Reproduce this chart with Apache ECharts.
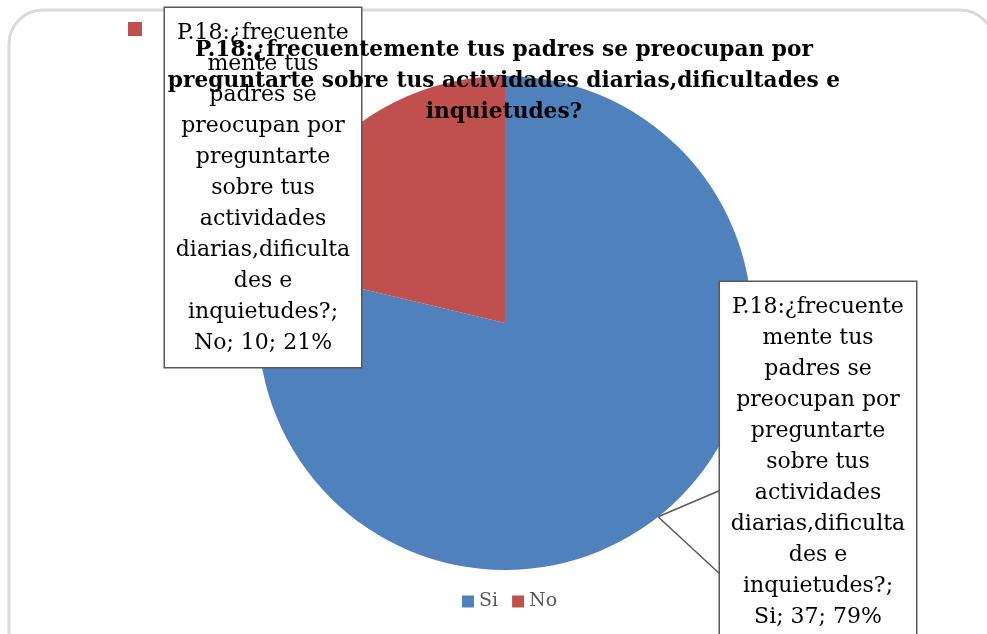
<!DOCTYPE html>
<html>
<head>
<meta charset="utf-8">
<script src="https://cdn.jsdelivr.net/npm/echarts@6/dist/echarts.min.js"></script>
<style>
    html, body { margin: 0; padding: 0; background: #fff; }
    #pie { width: 987px; height: 634px; }
</style>
</head>
<body>
<div id="pie"></div>
<script>
// datos de la pregunta 18
var categories = ['Si', 'No'];
var values = [37, 10];
var colors = ['#4F81BD', '#C0504D'];
var titleText = 'P.18:¿frecuentemente tus padres se preocupan por\npreguntarte sobre tus actividades diarias,dificultades e\ninquietudes?';
var questionLines = ['P.18:¿frecuente', 'mente tus', 'padres se', 'preocupan por', 'preguntarte',
    'sobre tus', 'actividades', 'diarias,dificulta', 'des e', 'inquietudes?;'];

var myChart = echarts.init(document.getElementById('pie'));
var serif = '"DejaVu Serif", "Liberation Serif", serif';

var option = {
    animation: false,
    title: {
        text: titleText, left: 499, textAlign: 'center', top: 30,
        textStyle: {fontFamily: serif, fontWeight: 'bold', fontSize: 21.7, lineHeight: 31, color: '#000'}
    },
    legend: [
        {
            data: categories, bottom: 18, left: 457, icon: 'rect', itemWidth: 12, itemHeight: 12, itemGap: 14,
            textStyle: {fontFamily: serif, fontSize: 19, color: '#595959'}
        },
        {
            // la clave de leyenda suelta arriba a la izquierda
            data: ['No'], left: 123, top: 17, icon: 'rect', itemWidth: 14, itemHeight: 14,
            formatter: function () { return ''; }, selectedMode: false
        }
    ],
    graphic: [{
        type: 'rect', silent: true, z: -1,
        shape: {x: 9, y: 10, width: 985, height: 660, r: 34},
        style: {fill: 'none', stroke: '#d9d9d9', lineWidth: 3}
    }],
    series: [{
        name: 'P.18', type: 'pie', center: [505, 323], radius: 247,
        startAngle: 90, clockwise: true,
        data: categories.map(function (c, i) {
            return {name: c, value: values[i], itemStyle: {color: colors[i]}};
        }),
        label: {
            show: true, position: 'outside',
            formatter: function (p) {
                return questionLines.join('\n') + '\n' + p.name + '; ' + p.value + '; ' + Math.round(p.percent) + '%';
            },
            fontFamily: serif, fontSize: 22, lineHeight: 31, color: '#000',
            backgroundColor: '#fff', borderColor: '#595959', borderWidth: 1.5,
            padding: [10, 6, 8, 6], width: 184, align: 'center', overflow: 'none'
        },
        labelLine: {show: true, lineStyle: {color: '#595959', width: 1.5}},
        labelLayout: function (params) {
            if (params.dataIndex === 0) {
                var s = params.labelLinePoints ? params.labelLinePoints[0] : [657, 515];
                return {x: 818, y: 282, align: 'center', verticalAlign: 'top',
                    labelLinePoints: [[721, 490], s, [721, 575]]};
            }
            return {x: 263, y: 8, align: 'center', verticalAlign: 'top', labelLinePoints: [[350, 130], [350, 130], [350, 130]]};
        }
    }]
};
myChart.setOption(option, true);
</script>
</body>
</html>
